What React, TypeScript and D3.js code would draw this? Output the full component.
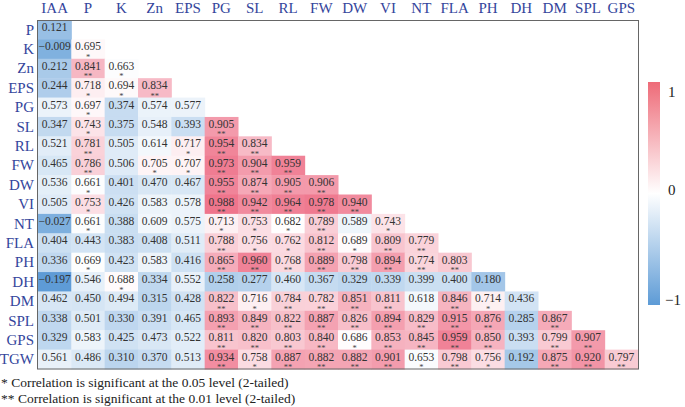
import React from "react";
import * as d3 from "d3";

const colLabels = ["IAA", "P", "K", "Zn", "EPS", "PG", "SL", "RL", "FW", "DW", "VI", "NT", "FLA", "PH", "DH", "DM", "SPL", "GPS"];
const rowLabels = ["P", "K", "Zn", "EPS", "PG", "SL", "RL", "FW", "DW", "VI", "NT", "FLA", "PH", "DH", "DM", "SPL", "GPS", "TGW"];

const corrValues: number[][] = [
  [0.121],
  [-0.009, 0.695],
  [0.212, 0.841, 0.663],
  [0.244, 0.718, 0.694, 0.834],
  [0.573, 0.697, 0.374, 0.574, 0.577],
  [0.347, 0.743, 0.375, 0.548, 0.393, 0.905],
  [0.521, 0.781, 0.505, 0.614, 0.717, 0.954, 0.834],
  [0.465, 0.786, 0.506, 0.705, 0.707, 0.973, 0.904, 0.959],
  [0.536, 0.661, 0.401, 0.47, 0.467, 0.955, 0.874, 0.905, 0.906],
  [0.505, 0.753, 0.426, 0.583, 0.578, 0.988, 0.942, 0.964, 0.978, 0.94],
  [-0.027, 0.661, 0.388, 0.609, 0.575, 0.713, 0.753, 0.682, 0.789, 0.589, 0.743],
  [0.404, 0.443, 0.383, 0.408, 0.511, 0.788, 0.756, 0.762, 0.812, 0.689, 0.809, 0.779],
  [0.336, 0.669, 0.423, 0.583, 0.416, 0.865, 0.96, 0.768, 0.889, 0.798, 0.894, 0.774, 0.803],
  [-0.197, 0.546, 0.688, 0.334, 0.552, 0.258, 0.277, 0.46, 0.367, 0.329, 0.339, 0.399, 0.4, 0.18],
  [0.462, 0.45, 0.494, 0.315, 0.428, 0.822, 0.716, 0.784, 0.782, 0.851, 0.811, 0.618, 0.846, 0.714, 0.436],
  [0.338, 0.501, 0.33, 0.391, 0.465, 0.893, 0.849, 0.822, 0.887, 0.826, 0.894, 0.829, 0.915, 0.876, 0.285, 0.867],
  [0.329, 0.583, 0.425, 0.473, 0.522, 0.811, 0.82, 0.803, 0.84, 0.686, 0.853, 0.845, 0.959, 0.85, 0.393, 0.799, 0.907],
  [0.561, 0.486, 0.31, 0.37, 0.513, 0.934, 0.758, 0.887, 0.882, 0.882, 0.901, 0.653, 0.798, 0.756, 0.192, 0.875, 0.92, 0.797],
];

// 0 = not significant, 1 = p<0.05 (*), 2 = p<0.01 (**)
const sigLevels: number[][] = [
  [0],
  [0, 1],
  [0, 2, 1],
  [0, 1, 1, 2],
  [0, 1, 0, 0, 0],
  [0, 1, 0, 0, 0, 2],
  [0, 2, 0, 0, 1, 2, 2],
  [0, 2, 0, 1, 1, 2, 2, 2],
  [0, 1, 0, 0, 0, 2, 2, 2, 2],
  [0, 1, 0, 0, 0, 2, 2, 2, 2, 2],
  [0, 1, 0, 0, 0, 1, 1, 1, 2, 0, 1],
  [0, 0, 0, 0, 0, 2, 1, 1, 2, 1, 2, 2],
  [0, 1, 0, 0, 0, 2, 2, 2, 2, 2, 2, 2, 2],
  [0, 0, 1, 0, 0, 0, 0, 0, 0, 0, 0, 0, 0, 0],
  [0, 0, 0, 0, 0, 2, 1, 2, 2, 2, 2, 0, 2, 1, 0],
  [0, 0, 0, 0, 0, 2, 2, 2, 2, 2, 2, 2, 2, 2, 0, 2],
  [0, 0, 0, 0, 0, 2, 2, 2, 2, 1, 2, 2, 2, 2, 0, 2, 2],
  [0, 0, 0, 0, 0, 2, 1, 2, 2, 2, 2, 1, 2, 1, 0, 2, 2, 2],
];

const colorbarTicks = [1, 0, -1];
const footnotes = [
  "* Correlation is significant at the 0.05 level (2-tailed)",
  "** Correlation is significant at the 0.01 level (2-tailed)",
];

const W = 685;
const H = 407;
const FONT = "Liberation Serif, Times New Roman, Times, serif";
const LABEL_COLOR = "#34459c";
const BLUE = "#5d9bd6";
const RED = "#ee7088";

export default function App() {
  const x = d3.scaleBand<string>().domain(colLabels).range([38, 638]).padding(0);
  const y = d3.scaleBand<string>().domain(rowLabels).range([20, 369]).padding(0);
  const color = d3
    .scaleLinear<string>()
    .domain([-0.2, 0.68, 1.0])
    .range([BLUE, "#ffffff", RED])
    .interpolate(d3.interpolateRgb)
    .clamp(true);
  const fmt = d3.format(".3f");
  const cbY = d3.scaleLinear().domain([-1, 1]).range([305, 82]);
  const cbLabelY = d3.scaleLinear().domain([-1, 1]).range([305, 97]);
  const bw = x.bandwidth();
  const bh = y.bandwidth();
  const ts = { fontFamily: FONT };

  return (
    <svg width={W} height={H} style={{ position: "absolute", left: 0, top: 0, fontFamily: FONT }}>
      <defs>
        <linearGradient id="cbgrad" x1="0" y1="1" x2="0" y2="0">
          <stop offset="0%" stopColor={BLUE} />
          <stop offset="50%" stopColor="#ffffff" />
          <stop offset="100%" stopColor="#ee6b78" />
        </linearGradient>
      </defs>
      <rect width={W} height={H} fill="#ffffff" />
      {/* cells */}
      {corrValues.map((row, ri) =>
        row.map((v, ci) => {
          const cx = x(colLabels[ci])!;
          const cy = y(rowLabels[ri])!;
          const s = sigLevels[ri][ci];
          return (
            <g key={`${ri}-${ci}`}>
              <rect x={cx} y={cy} width={bw + 0.5} height={bh + 0.5} fill={color(v)} />
              <text x={cx + bw / 2} y={cy + 11} textAnchor="middle" fontSize={11.5} fill="#333" style={ts}>
                {fmt(v)}
              </text>
              {s > 0 && (
                <text x={cx + bw / 2} y={cy + 20.5} textAnchor="middle" fontSize={8.5} fill="#444" style={ts}>
                  {s === 2 ? "**" : "*"}
                </text>
              )}
            </g>
          );
        })
      )}
      {/* frame */}
      <rect x={37.5} y={20.5} width={601} height={348.5} fill="none" stroke="#666" strokeWidth={1} />
      {/* column labels */}
      {colLabels.map((c) => (
        <text key={c} x={x(c)! + bw / 2} y={13} textAnchor="middle" fontSize={15} fill={LABEL_COLOR} style={ts}>
          {c}
        </text>
      ))}
      {/* row labels */}
      {rowLabels.map((r) => (
        <text key={r} x={34} y={y(r)! + bh / 2 + 5} textAnchor="end" fontSize={15} fill={LABEL_COLOR} style={ts}>
          {r}
        </text>
      ))}
      {/* colorbar */}
      <rect x={648} y={cbY(1)} width={12} height={cbY(-1) - cbY(1)} fill="url(#cbgrad)" />
      {colorbarTicks.map((t) => (
        <text key={t} x={t < 0 ? 665 : 668} y={cbLabelY(t) + (t === 0 ? -6 : 0)} fontSize={15} fill="#222" style={ts}>
          {t < 0 ? `\u2212${Math.abs(t)}` : `${t}`}
        </text>
      ))}
      {/* footnotes */}
      {footnotes.map((f, i) => (
        <text key={i} x={1} y={387 + i * 16} fontSize={13.5} fill="#222" style={ts}>
          {f}
        </text>
      ))}
    </svg>
  );
}
